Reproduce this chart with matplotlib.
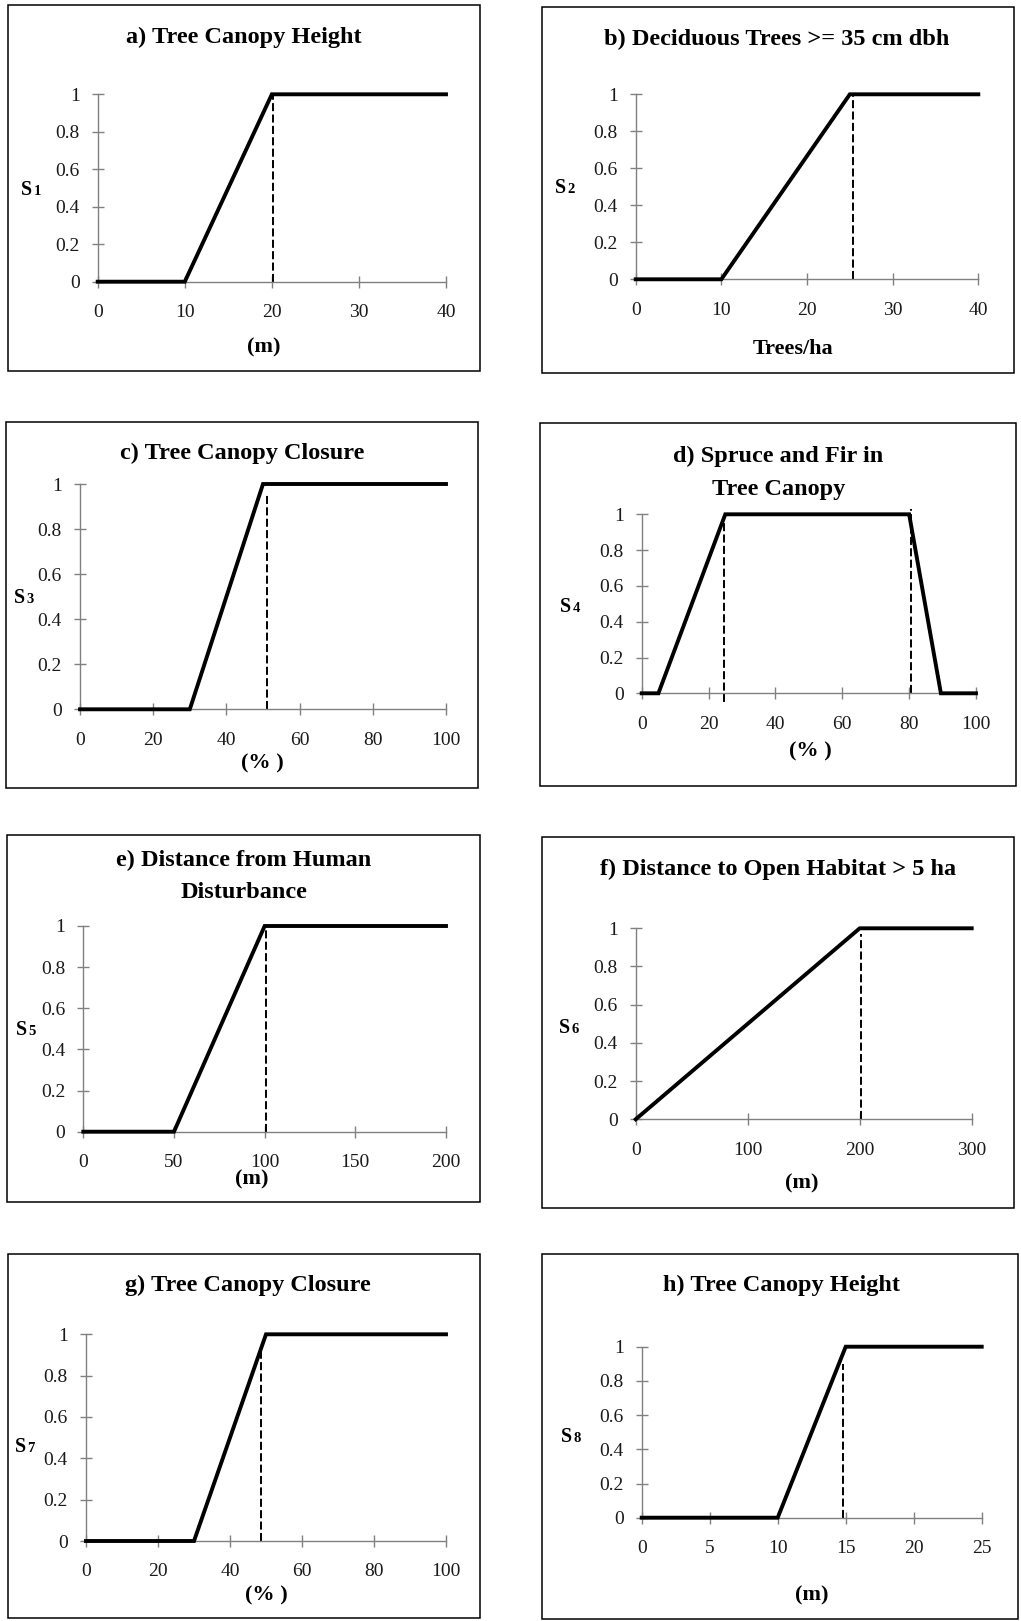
import matplotlib
matplotlib.use('Agg')
import matplotlib.pyplot as plt
from matplotlib.patches import Rectangle

plt.rcParams['font.family'] = ['Liberation Serif', 'DejaVu Serif']
plt.rcParams['lines.scale_dashes'] = False

W, H = 1021, 1621

# ---- data ----
titles = ['a) Tree Canopy Height', 'b) Deciduous Trees >= 35 cm dbh',
          'c) Tree Canopy Closure', 'd) Spruce and Fir in\nTree Canopy',
          'e) Distance from Human\nDisturbance', 'f) Distance to Open Habitat > 5 ha',
          'g) Tree Canopy Closure', 'h) Tree Canopy Height']
xlabels = ['(m)', 'Trees/ha', '(% )', '(% )', '(m)', '(m)', '(% )', '(m)']
subs = ['1', '2', '3', '4', '5', '6', '7', '8']

x_a, y_a = [0, 10, 20, 40], [0, 0, 1, 1]
x_b, y_b = [0, 10, 25, 40], [0, 0, 1, 1]
x_c, y_c = [0, 30, 50, 100], [0, 0, 1, 1]
x_d, y_d = [0, 5, 25, 80, 89.5, 100], [0, 0, 1, 1, 0, 0]
x_e, y_e = [0, 50, 100, 200], [0, 0, 1, 1]
x_f, y_f = [0, 200, 300], [0, 1, 1]
x_g, y_g = [0, 30, 50, 100], [0, 0, 1, 1]
x_h, y_h = [0, 10, 15, 25], [0, 0, 1, 1]
xs = [x_a, x_b, x_c, x_d, x_e, x_f, x_g, x_h]
ys = [y_a, y_b, y_c, y_d, y_e, y_f, y_g, y_h]

# dashed reference lines: (x, y bottom, y top)
dash_a = [(20.1, 0, 1)]
dash_b = [(25.4, 0, 1)]
dash_c = [(51.1, 0, 0.95)]
dash_d = [(24.7, -0.05, 0.95), (80.5, 0, 1.03)]
dash_e = [(101, 0, 1)]
dash_f = [(201, 0, 0.97)]
dash_g = [(48.5, 0, 0.93)]
dash_h = [(14.8, 0, 0.9)]
dashes = [dash_a, dash_b, dash_c, dash_d, dash_e, dash_f, dash_g, dash_h]

xticks = [[0, 10, 20, 30, 40], [0, 10, 20, 30, 40], [0, 20, 40, 60, 80, 100],
          [0, 20, 40, 60, 80, 100], [0, 50, 100, 150, 200], [0, 100, 200, 300],
          [0, 20, 40, 60, 80, 100], [0, 5, 10, 15, 20, 25]]
yticks = [0, 0.2, 0.4, 0.6, 0.8, 1]
ytick_labels = ['0', '0.2', '0.4', '0.6', '0.8', '1']

# ---- layout in pixels ----
# axes: x0, x1, y_bottom, y_top
axes_px = [(97.7, 446, 281.7, 94.3), (635.7, 978.3, 279.3, 94.3),
           (80, 446, 709.3, 484), (641.7, 976, 693.3, 514.3),
           (83.3, 446, 1131.7, 926), (635.7, 971.7, 1119.3, 928.3),
           (86, 446, 1541, 1334.3), (641.7, 981.7, 1517.7, 1346.7)]
# frame: left, top, right, bottom
box_px = [(7.5, 5, 480, 371), (542.3, 7.3, 1014, 373.3),
          (6, 421.7, 478.3, 787.7), (539.7, 423.3, 1016, 786),
          (7.3, 835, 480, 1202.3), (542.3, 837.3, 1014, 1207.7),
          (8, 1254, 480, 1618.3), (541.7, 1254, 1018.3, 1619.3)]
# title: center x, baseline of last line
title_px = [(244, 43.5), (777, 45), (242.5, 459.5), (778.5, 494.5),
            (243.5, 898.5), (778.3, 875), (247.5, 1291), (781, 1291)]
xlab_px = [(264, 352), (793, 354), (262.7, 768), (810.8, 756),
           (252, 1184), (802, 1188), (266.8, 1600), (812, 1600)]
# S label: x where S ends, baseline
s_px = [(32.5, 195), (566.5, 193), (25.5, 602.7), (571.5, 611.7),
        (27, 1035), (570.5, 1032.7), (26.5, 1451.7), (572, 1441.7)]


def fx(x):
    return x / W


def fy(y):
    return 1 - y / H


fig = plt.figure(figsize=(W / 100, H / 100), dpi=100)

for i in range(8):
    l, t, r, b = box_px[i]
    fig.patches.append(Rectangle((fx(l), fy(b)), fx(r - l), (b - t) / H,
                                 transform=fig.transFigure, fill=False,
                                 edgecolor='black', linewidth=1.1))

    x0, x1, yb, yt = axes_px[i]
    ax = fig.add_axes([fx(x0), fy(yb), fx(x1 - x0), (yb - yt) / H])
    ax.set_facecolor('none')
    ax.set_xlim(xticks[i][0], xticks[i][-1])
    ax.set_ylim(0, 1)
    ax.plot(xs[i], ys[i], color='black', linewidth=2.8, clip_on=False,
            solid_joinstyle='miter', zorder=3)
    for (dx, d0, d1) in dashes[i]:
        ax.plot([dx, dx], [d0, d1], color='black', linewidth=1.4,
                dashes=(5.8, 2.4), clip_on=False, zorder=2)

    for s in ['top', 'right']:
        ax.spines[s].set_visible(False)
    for s in ['left', 'bottom']:
        ax.spines[s].set_color('#808080')
        ax.spines[s].set_linewidth(1.0)
    ax.set_xticks(xticks[i])
    ax.set_xticklabels([str(v) for v in xticks[i]])
    ax.set_yticks(yticks)
    ax.set_yticklabels(ytick_labels)
    ax.tick_params(axis='x', direction='inout', length=8, width=1.0,
                   color='#808080', pad=12, labelsize=14, labelcolor='#1a1a1a')
    ax.tick_params(axis='y', direction='inout', length=8, width=1.0,
                   color='#808080', pad=9, labelsize=14, labelcolor='#1a1a1a')

    tx, ty = title_px[i]
    fig.text(fx(tx), fy(ty), titles[i], ha='center', va='baseline',
             fontsize=17.5, fontweight='bold', linespacing=1.7,
             multialignment='center')
    lx, ly = xlab_px[i]
    fig.text(fx(lx), fy(ly), xlabels[i], ha='center', va='baseline',
             fontsize=16, fontweight='bold')
    sx, sy = s_px[i]
    fig.text(fx(sx), fy(sy), 'S', ha='right', va='baseline',
             fontsize=14.5, fontweight='bold')
    fig.text(fx(sx + 1), fy(sy), subs[i], ha='left', va='baseline',
             fontsize=10.5, fontweight='bold')

fig.savefig('out.png', dpi=100, facecolor='white')
